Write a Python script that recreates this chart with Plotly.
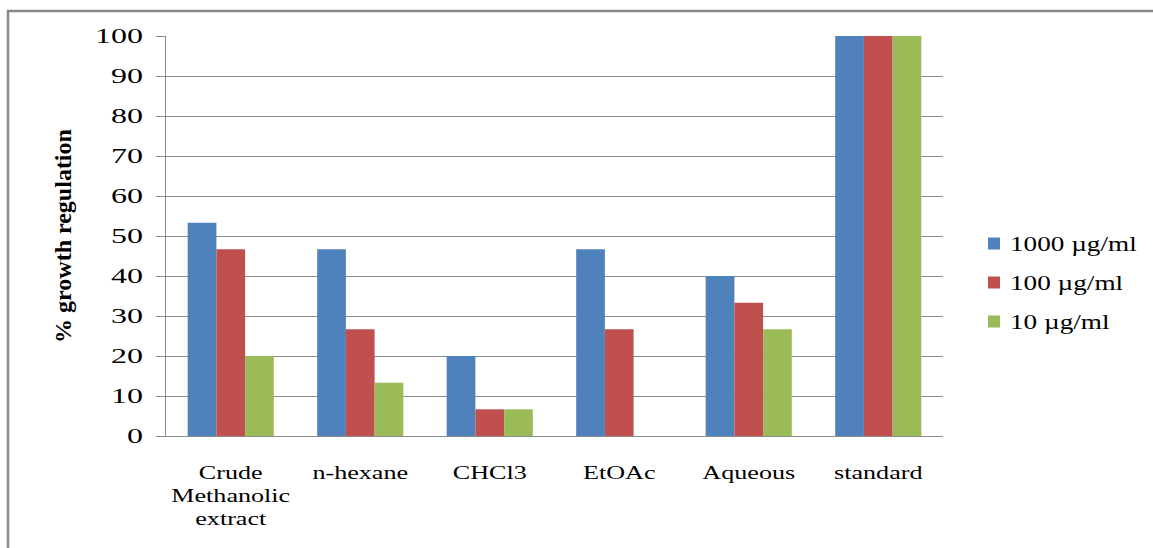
import plotly.graph_objects as go

categories = ["Crude<br>Methanolic<br>extract", "n-hexane", "CHCl3", "EtOAc", "Aqueous", "standard"]
series_names = ["1000 µg/ml", "100 µg/ml", "10 µg/ml"]
vals_1000 = [53.3, 46.7, 20.0, 46.7, 40.0, 100.0]
vals_100 = [46.7, 26.7, 6.67, 26.7, 33.3, 100.0]
vals_10 = [20.0, 13.3, 6.67, 0.0, 26.7, 100.0]
y_ticks = [0, 10, 20, 30, 40, 50, 60, 70, 80, 90, 100]

colors = ["#4F81BD", "#C0504D", "#9BBB59"]
SERIF = "Liberation Serif, Times New Roman, serif"
GRID = "#8c8c8c"

fig = go.Figure()
for i, (name, vals) in enumerate(zip(series_names, [vals_1000, vals_100, vals_10])):
    fig.add_trace(go.Bar(
        x=categories, y=vals, name=name,
        marker=dict(color=colors[i], line=dict(width=0)),
        legendgroup=f"g{i}",
    ))

# plot area spans roughly x 166..943 px, y 36..436 px
L, R, T, B = 166, 1153 - 943, 36, 548 - 436
W, H = 1153 - L - R, 548 - T - B

def px_x(p):
    return (p - L) / W

def px_y(p):
    return (548 - B - p) / H

fig.update_layout(
    width=1153, height=548,
    margin=dict(l=L, r=R, t=T, b=B),
    paper_bgcolor="white", plot_bgcolor="white",
    barmode="group", bargap=0.335, bargroupgap=0,
    font=dict(family=SERIF, color="black", size=18),
    showlegend=True,
    legend=dict(
        x=px_x(974), y=px_y(224), xanchor="left", yanchor="top",
        font=dict(family=SERIF, size=20, color="black"),
        tracegroupgap=10, traceorder="grouped",
        bgcolor="rgba(0,0,0,0)",
    ),
    xaxis=dict(
        showline=True, linecolor=GRID, linewidth=1,
        showgrid=False, zeroline=False,
        ticks="outside", ticklen=20, tickcolor="rgba(0,0,0,0)",
        tickfont=dict(family=SERIF, size=18, color="black"),
    ),
    yaxis=dict(
        range=[0, 100], tickvals=y_ticks,
        showline=True, linecolor=GRID, linewidth=1,
        showgrid=True, gridcolor=GRID, gridwidth=1,
        zeroline=False,
        ticks="outside", ticklen=9, tickcolor=GRID,
        ticklabelstandoff=9,
        tickfont=dict(family=SERIF, size=20, color="black"),
        title=dict(text="<b>% growth regulation</b>", standoff=34,
                   font=dict(family=SERIF, size=24, color="black")),
    ),
    shapes=[
        dict(type="rect", xref="paper", yref="paper",
             x0=px_x(8), x1=px_x(1170), y0=px_y(11), y1=px_y(570),
             line=dict(color="#8a8a8a", width=2.5), fillcolor="rgba(0,0,0,0)",
             layer="below"),
    ],
)

# widen the horizontal labels (tick labels and legend entries) with wide-set glyphs
widen_js = """
(function(){
  var gd = document.getElementById('{plot_id}');
  var groups = [['.xtick text', 1.45], ['.ytick text', 1.6], ['.legendtext', 1.36]];
  function widen(){
    groups.forEach(function(g){
      gd.querySelectorAll(g[0]).forEach(function(t){
        var lines = t.querySelectorAll('tspan.line');
        var els = lines.length ? Array.prototype.slice.call(lines) : [t];
        els.forEach(function(e){
          e.removeAttribute('textLength');
          var w = e.getComputedTextLength();
          e.setAttribute('lengthAdjust', 'spacingAndGlyphs');
          e.setAttribute('textLength', (w * g[1]).toFixed(2));
        });
      });
    });
    gd.querySelectorAll('.legend [clip-path]').forEach(function(e){
      e.removeAttribute('clip-path');
    });
    gd.querySelectorAll('.legendtext').forEach(function(t){
      t.setAttribute('x', '36');
    });
  }
  widen();
  gd.on('plotly_afterplot', widen);
})();
"""

fig.write_html("out.html", post_script=widen_js)
